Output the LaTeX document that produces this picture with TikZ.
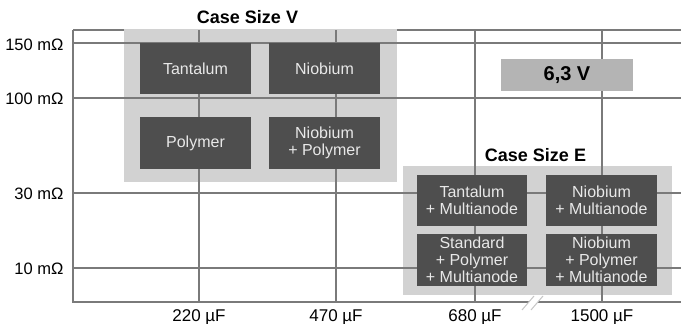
\documentclass[tikz,border=0pt]{standalone}
\usepackage{fontspec}
\setmainfont{Liberation Sans}
\usetikzlibrary{positioning}
\definecolor{gridgray}{RGB}{122,122,122}
\definecolor{casefill}{RGB}{210,210,210}
\definecolor{techfill}{RGB}{78,78,78}
\definecolor{techtext}{RGB}{232,232,232}
\definecolor{voltfill}{RGB}{180,180,180}

\begin{document}
\begin{tikzpicture}[x=1pt,y=-1pt,
  gridline/.style={draw=gridgray,line width=1.5pt},
  casebox/.style={fill=casefill,inner sep=0pt},
  techbox/.style={fill=techfill,text=techtext,inner sep=0pt,align=center,
    font=\fontsize{16}{17}\selectfont},
  caselabel/.style={font=\fontsize{18}{20}\selectfont\bfseries},
  ylabel/.style={anchor=east,font=\fontsize{16.5}{18}\selectfont},
  xlabel/.style={font=\fontsize{17}{18}\selectfont}]
\useasboundingbox (0,0) rectangle (681,324);
% top frame line, hidden behind case V
\draw[gridline] (73,30) -- (681,30);
% case size areas
\node[casebox,minimum width=273pt,minimum height=153pt] (caseV) at (260.5,105.5) {};
\node[casebox,minimum width=269pt,minimum height=129pt] (caseE) at (537.5,230.5) {};
% grid
\foreach \y in {43,98,193,268}
  \draw[gridline] (73,\y) -- (681,\y);
\foreach \x in {199,336,475,602}
  \draw[gridline] (\x,30) -- (\x,302);
\draw[gridline] (73,30) -- (73,302) -- (681,302);
% axis break
\fill[white] (522,310) -- (534,296) -- (543,296) -- (531,310) -- cycle;
\draw[gray!45,line width=1pt] (522,310) -- (534,296) (531,310) -- (543,296);
% axis labels
\node[ylabel] (r150) at (67,45) {150 mΩ};
\node[ylabel] (r100) at (67,99) {100 mΩ};
\node[ylabel] (r30) at (67,194) {30 mΩ};
\node[ylabel] (r10) at (67,269) {10 mΩ};
\node[xlabel] (c220) at (199,317) {220 µF};
\node[xlabel] (c470) at (336,317) {470 µF};
\node[xlabel] (c680) at (475,317) {680 µF};
\node[xlabel] (c1500) at (602,317) {1500 µF};
% case V technologies
\node[techbox,minimum width=111pt,minimum height=51pt] (tan) at (195.5,68.5) {Tantalum};
\node[techbox,minimum width=111pt,minimum height=51pt] (niob) at (324.5,68.5) {Niobium};
\node[techbox,minimum width=111pt,minimum height=52pt] (poly) at (195.5,143) {Polymer};
\node[techbox,minimum width=111pt,minimum height=52pt] (niobpoly) at (324.5,143) {Niobium\\+ Polymer};
% case E technologies
\node[techbox,minimum width=110pt,minimum height=51pt] (tanmulti) at (472,200.5) {Tantalum\\+ Multianode};
\node[techbox,minimum width=111pt,minimum height=51pt] (niobmulti) at (601.5,200.5) {Niobium\\+ Multianode};
\node[techbox,minimum width=110pt,minimum height=52pt] (stdpolymulti) at (472,260) {Standard\\+ Polymer\\+ Multianode};
\node[techbox,minimum width=111pt,minimum height=52pt] (niobpolymulti) at (601.5,260) {Niobium\\+ Polymer\\+ Multianode};
% titles
\node[caselabel] (titleV) at (247.5,17) {Case Size V};
\node[caselabel] (titleE) at (535.5,155) {Case Size E};
\node[fill=voltfill,minimum width=132pt,minimum height=32pt,inner sep=0pt,
  font=\fontsize{20}{22}\selectfont\bfseries] (volt) at (567,75) {6,3 V};
\end{tikzpicture}
\end{document}
